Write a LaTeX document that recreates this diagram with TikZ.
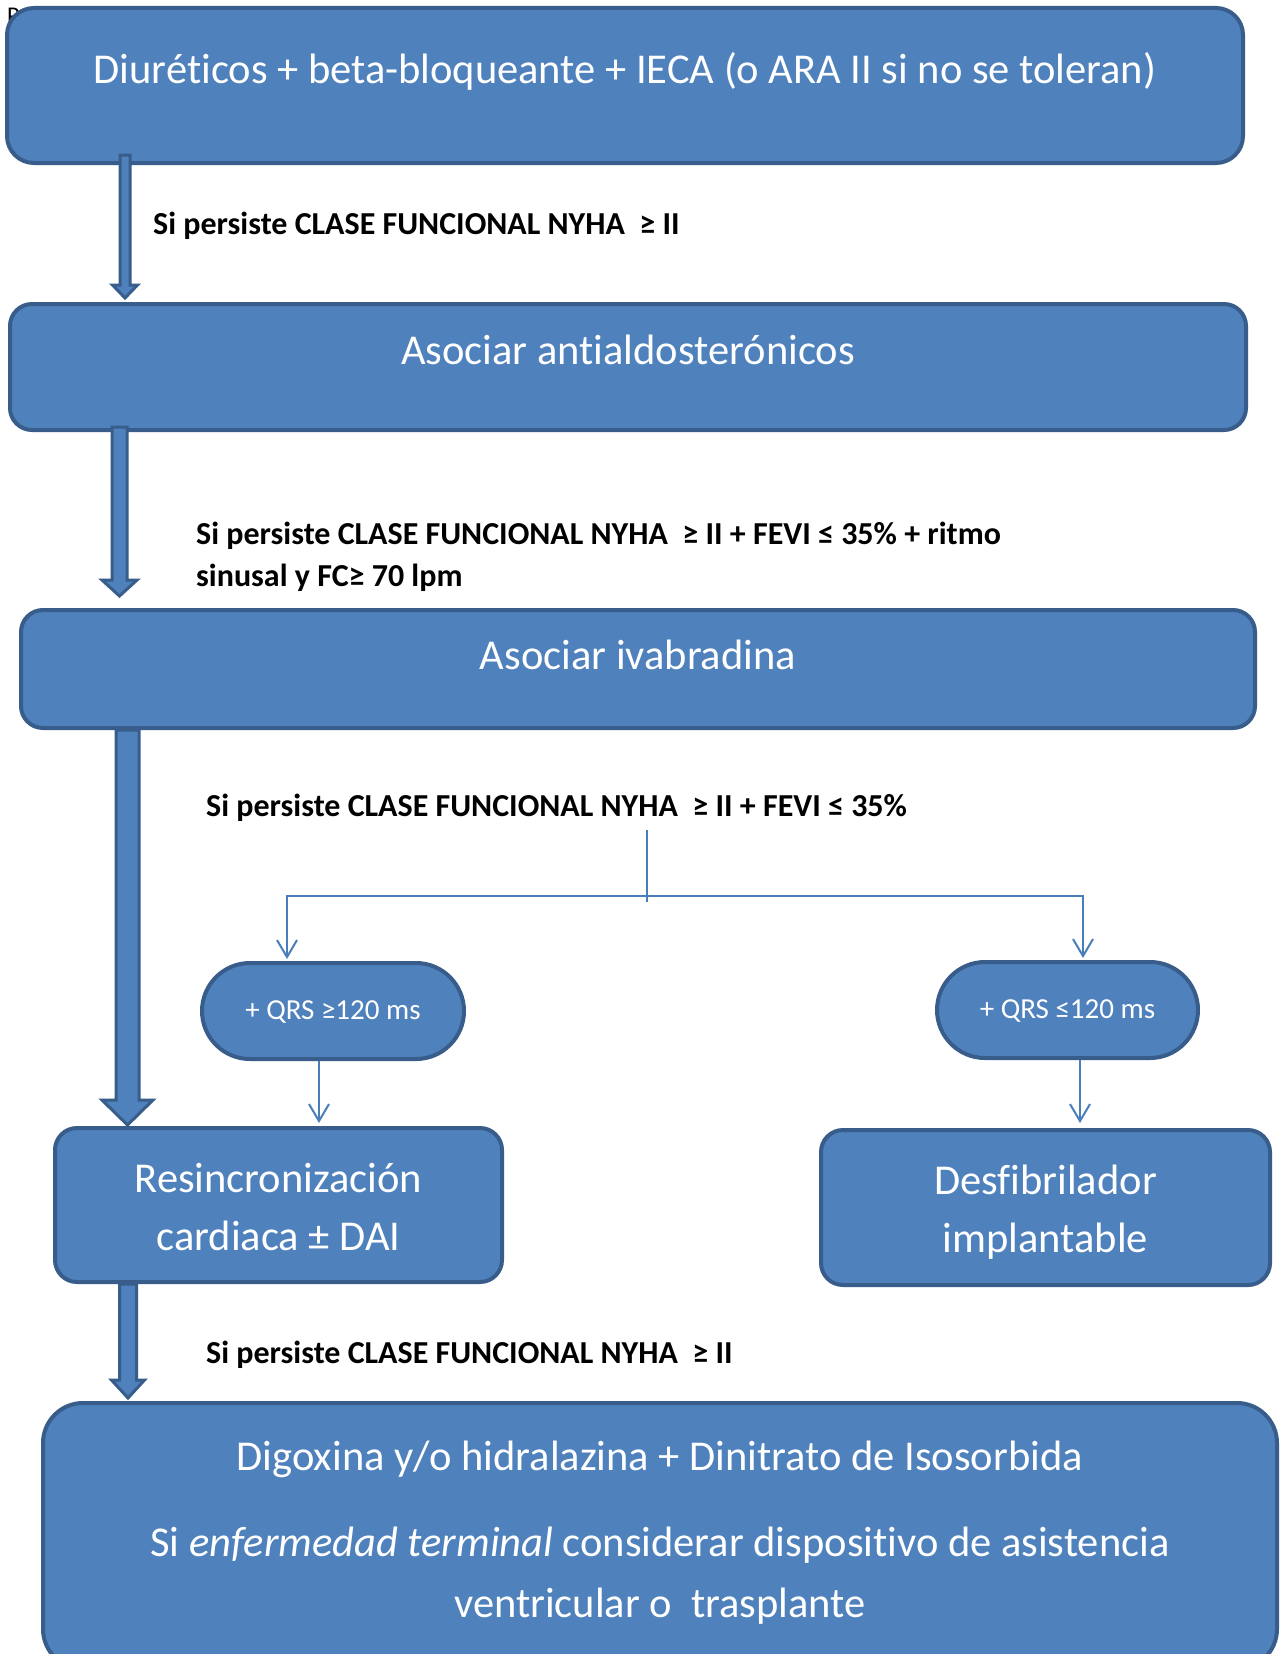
\documentclass[tikz,border=0pt]{standalone}
\usepackage{fontspec}
\setmainfont[Ligatures=NoCommon]{Carlito}
\usetikzlibrary{calc,arrows.meta}
\definecolor{boxfill}{HTML}{4F81BD}
\definecolor{boxdraw}{HTML}{385D8A}
\definecolor{linec}{HTML}{4A7EBB}
\begin{document}
\begin{tikzpicture}[x=1pt,y=-1pt,
 box/.style={draw=boxdraw, fill=boxfill, line width=4pt, inner sep=0pt, rectangle},
 btext/.style={text=white, font=\fontsize{42.5}{58}\selectfont, anchor=base, inner sep=0pt},
 ltext/.style={text=black, font=\bfseries\fontsize{32}{43}\selectfont, anchor=base west, inner sep=0pt},
 ptext/.style={text=white, font=\fontsize{29}{35}\selectfont, anchor=base, inner sep=0pt},
 conn/.style={draw=linec, line width=2pt},
 tip/.style={-{Straight Barb[length=17pt,width=20pt]}},
 blockarrow/.style n args={3}{draw=boxdraw, fill=boxfill, line width=3pt, line join=miter,
   to path={let \p1=(\tikztostart), \p2=(\tikztotarget) in
     (\x1-#1/2,\y1) -- (\x1-#1/2,\y2+#3) -- (\x1-#2/2,\y2+#3) -- (\x1,\y2)
     -- (\x1+#2/2,\y2+#3) -- (\x1+#1/2,\y2+#3) -- (\x1+#1/2,\y1) -- cycle}},
]
\useasboundingbox (0,0) rectangle (1281,1654);
\clip (0,0) rectangle (1281,1654);
\fill[white] (0,0) rectangle (1281,1654);

% stray page letter behind top box
\node[anchor=north west, inner sep=0pt, font=\fontsize{24}{28}\selectfont] (pg) at (7,8) {P};

% boxes
\node[box, rounded corners=27pt, minimum width=1236pt, minimum height=155pt] (b1) at (625,85.5) {};
\node[box, rounded corners=22pt, minimum width=1236pt, minimum height=126pt] (b2) at (628,367) {};
\node[box, rounded corners=22pt, minimum width=1234pt, minimum height=118pt] (b3) at (638,669) {};
\node[box, rounded corners=48pt, minimum width=262pt, minimum height=96pt] (p1) at (333,1011) {};
\node[box, rounded corners=48pt, minimum width=261pt, minimum height=96pt] (p2) at (1067.5,1010) {};
\node[box, rounded corners=22pt, minimum width=447pt, minimum height=154pt] (b4) at (278.5,1205) {};
\node[box, rounded corners=22pt, minimum width=449pt, minimum height=155pt] (b5) at (1045.5,1207.5) {};
\node[box, rounded corners=40pt, minimum width=1234pt, minimum height=266pt] (b6) at (660,1536) {};

% box texts
\node[btext] (t1) at (625,84) {Diuréticos + beta-bloqueante + IECA (o ARA II si no se toleran)};
\node[btext] (t2) at (628,364) {Asociar antialdosterónicos};
\node[btext] (t3) at (638,669) {Asociar ivabradina};
\node[ptext] (tp1) at (333,1019) {+ QRS ≥120 ms};
\node[ptext] (tp2) at (1067.5,1018) {+ QRS ≤120 ms};
\node[btext] (t4a) at (278.5,1192) {Resincronización};
\node[btext] (t4b) at (278.5,1250) {cardiaca ± DAI};
\node[btext] (t5a) at (1045.5,1194) {Desfibrilador};
\node[btext] (t5b) at (1045.5,1252) {implantable};
\node[btext] (t6a) at (660,1470) {Digoxina y/o hidralazina + Dinitrato de Isosorbida};
\node[btext] (t6b) at (660,1556) {Si \textit{enfermedad terminal} considerar dispositivo de asistencia};
\node[btext] (t6c) at (660,1617) {ventricular o~ trasplante};

% condition labels
\node[ltext] (l1) at (153,234) {Si persiste CLASE FUNCIONAL NYHA~ ≥ II};
\node[ltext] (l2a) at (196,544) {Si persiste CLASE FUNCIONAL NYHA~ ≥ II + FEVI ≤ 35\% + ritmo};
\node[ltext] (l2b) at (196,586) {sinusal y FC≥ 70 lpm};
\node[ltext] (l3) at (206,816) {Si persiste CLASE FUNCIONAL NYHA~ ≥ II + FEVI ≤ 35\%};
\node[ltext] (l4) at (206,1363) {Si persiste CLASE FUNCIONAL NYHA~ ≥ II};

% block arrows
\draw[blockarrow={10pt}{25pt}{13pt}] ([yshift=10pt]125,0 |- b1.south) to ([yshift=4pt]125,0 |- b2.north);
\draw[blockarrow={15pt}{35pt}{16pt}] ([yshift=5pt]119.5,0 |- b2.south) to ([yshift=12pt]119.5,0 |- b3.north);
\draw[blockarrow={23pt}{51pt}{25pt}] (127.5,0 |- b3.south) to ([yshift=1pt]127.5,0 |- b4.north);
\draw[blockarrow={17pt}{33pt}{18pt}] (128,0 |- b4.south) to ([yshift=3pt]128,0 |- b6.north);

% branching connector
\coordinate (split) at (647,830);
\coordinate (splitb) at (647,902);
\coordinate (hl) at (287,896);
\coordinate (hr) at (1083,896);
\draw[conn] (split) -- (splitb);
\draw[conn, {Straight Barb[length=17pt,width=20pt]}-{Straight Barb[length=17pt,width=20pt]}]
  ([yshift=2pt]hl |- p1.north) -- (hl) -- (hr) -- ([yshift=2pt]hr |- p2.north);
\draw[conn, tip] (319,0 |- p1.south) -- ([yshift=3pt]319,0 |- b4.north);
\draw[conn, tip] (1080,0 |- p2.south) -- ([yshift=5pt]1080,0 |- b5.north);
\end{tikzpicture}
\end{document}
